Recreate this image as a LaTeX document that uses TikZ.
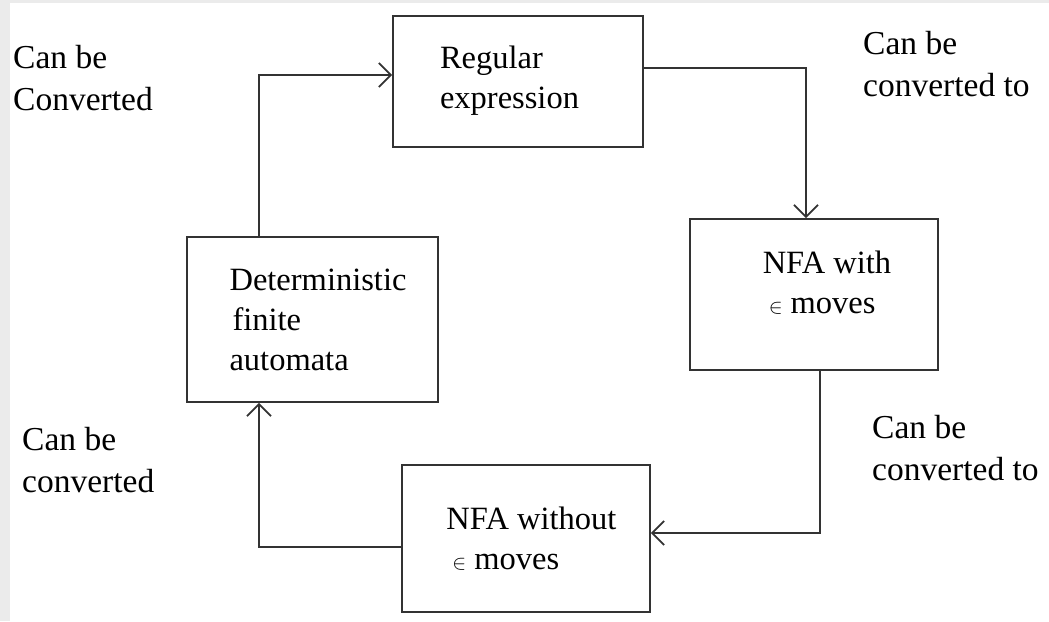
\documentclass[tikz,border=0pt]{standalone}
\usepackage{fontspec}
\setmainfont{Liberation Serif}
\newfontfamily\scanfont{Liberation Serif}
\usepackage{tikz}
\usetikzlibrary{arrows.meta, positioning, calc}

\begin{document}
\begin{tikzpicture}[
            x=1pt, y=-1pt,
            box/.style={rectangle, draw=black!80, line width=1.8pt, align=left, inner sep=0pt,
                        font=\scanfont\fontsize{32.5}{40}\selectfont},
            note/.style={align=left, inner sep=0pt, anchor=base west, font=\scanfont\fontsize{33.5}{42}\selectfont},
            conv/.style={draw=black!80, line width=1.8pt, -{Straight Barb[length=12pt, width=24pt, line width=1.8pt]}},
        ]
        % page and scan border
        \fill[black!8] (0,0) rectangle (1049,621);
        \fill[white] (10,3) rectangle (1049,621);
        \useasboundingbox (0,0) rectangle (1049,621);

        % Boxes
        \node[box, minimum width=250pt, minimum height=131pt, text depth=8pt] (re) at (518,81.5) {Regular\\expression\kern17pt};
        \node[box, minimum width=248pt, minimum height=151pt, text depth=24pt] (nfae) at (814,294.5) {\hspace{26pt}NFA with\\\hspace{32pt}$\scriptstyle\in$ moves};
        \node[box, minimum width=251pt, minimum height=165pt] (dfa) at (312.5,319.5) {\hspace{11pt}Deterministic\\\hspace{14pt}finite\\\hspace{11pt}automata};
        \node[box, minimum width=248pt, minimum height=147pt] (nfa) at (526,538.5) {\hspace{11pt}NFA without\\\hspace{17pt}$\scriptstyle\in$ moves};

        % Labels (base = last line)
        \node[note] (lre) at (13,110) {Can be\\Converted};
        \node[note] (lnfae) at (863,96) {Can be\\converted to};
        \node[note] (ldfa) at (22,492) {Can be\\converted};
        \node[note] (lnfa) at (872,480) {Can be\\converted to};

        % Connections
        \draw[conv] ([yshift=13.5pt]re.east) -| ([xshift=-8pt]nfae.north);
        \draw[conv] ([xshift=6pt]nfae.south) |- ([yshift=5.5pt]nfa.east);
        \draw[conv] ([yshift=-8.5pt]nfa.west) -| ([xshift=-53.5pt]dfa.south);
        \draw[conv] ([xshift=-53.5pt]dfa.north) |- ([yshift=6.5pt]re.west);
        \end{tikzpicture}
\end{document}
